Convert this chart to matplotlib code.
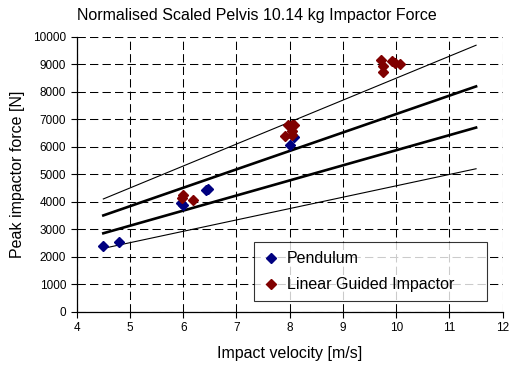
import matplotlib
matplotlib.use("Agg")
import matplotlib.pyplot as plt
import numpy as np

plt.rcParams['font.family'] = ['Liberation Sans', 'DejaVu Sans']

# Data
pend_v = [4.5, 4.8, 5.95, 6.0, 6.43, 6.47, 8.0, 8.08]
pend_f = [2400, 2550, 3950, 3870, 4430, 4460, 6080, 6340]

lin_v = [6.0, 5.98, 6.19, 7.96, 8.05, 8.08, 8.05, 7.92, 8.04,
         9.71, 9.75, 9.76, 9.92, 9.97, 10.08]
lin_f = [4250, 4150, 4080, 6780, 6780, 6810, 6580, 6390, 6440,
         9150, 8960, 8740, 9120, 9050, 9010]

# Fit / bound lines (endpoints)
line_v = [4.5, 11.5]
upper_thin = [4100, 9700]
upper_thick = [3500, 8200]
lower_thick = [2850, 6700]
lower_thin = [2300, 5200]

title = "Normalised Scaled Pelvis 10.14 kg Impactor Force"
xlabel = "Impact velocity [m/s]"
ylabel = "Peak impactor force [N]"
xticks = [4, 5, 6, 7, 8, 9, 10, 11, 12]
yticks = [0, 1000, 2000, 3000, 4000, 5000, 6000, 7000, 8000, 9000, 10000]

fig = plt.figure(figsize=(5.09, 3.67), dpi=100)
ax = fig.add_axes([0.1507, 0.1512, 0.8369, 0.748])

ax.set_xlim(4, 12)
ax.set_ylim(0, 10000)
ax.set_xticks(xticks)
ax.set_yticks(yticks)
ax.tick_params(labelsize=8.5, direction='out', length=4, width=0.8, colors='black')

for s in ['top', 'right']:
    ax.spines[s].set_visible(False)
for s in ['left', 'bottom']:
    ax.spines[s].set_linewidth(0.9)

ax.grid(True, color='black', linestyle=(0, (8, 4)), linewidth=0.75)
ax.set_axisbelow(True)

ax.plot(line_v, upper_thin, color='black', lw=0.8)
ax.plot(line_v, upper_thick, color='black', lw=1.9)
ax.plot(line_v, lower_thick, color='black', lw=1.9)
ax.plot(line_v, lower_thin, color='black', lw=0.8)

ax.plot(pend_v, pend_f, linestyle='none', marker='D', markersize=5.2,
        color='#000080', label='Pendulum', zorder=5)
ax.plot(lin_v, lin_f, linestyle='none', marker='D', markersize=5.2,
        color='#800000', label='Linear Guided Impactor', zorder=5)

leg = ax.legend(loc='lower left', bbox_to_anchor=(0.416, 0.038, 0.547, 0.215),
                mode='expand', fontsize=11.5, frameon=True, fancybox=False,
                edgecolor='black', borderpad=0.55, labelspacing=0.7,
                handlelength=1.0, handletextpad=0.5, borderaxespad=0)
leg.get_frame().set_linewidth(0.8)

fig.text(0.505, 0.958, title, fontsize=11.5, ha='center', va='center')
ax.set_xlabel(xlabel, fontsize=11.5, labelpad=9)
ax.set_ylabel(ylabel, fontsize=11.5, labelpad=6)

fig.savefig("out.png", dpi=100)
